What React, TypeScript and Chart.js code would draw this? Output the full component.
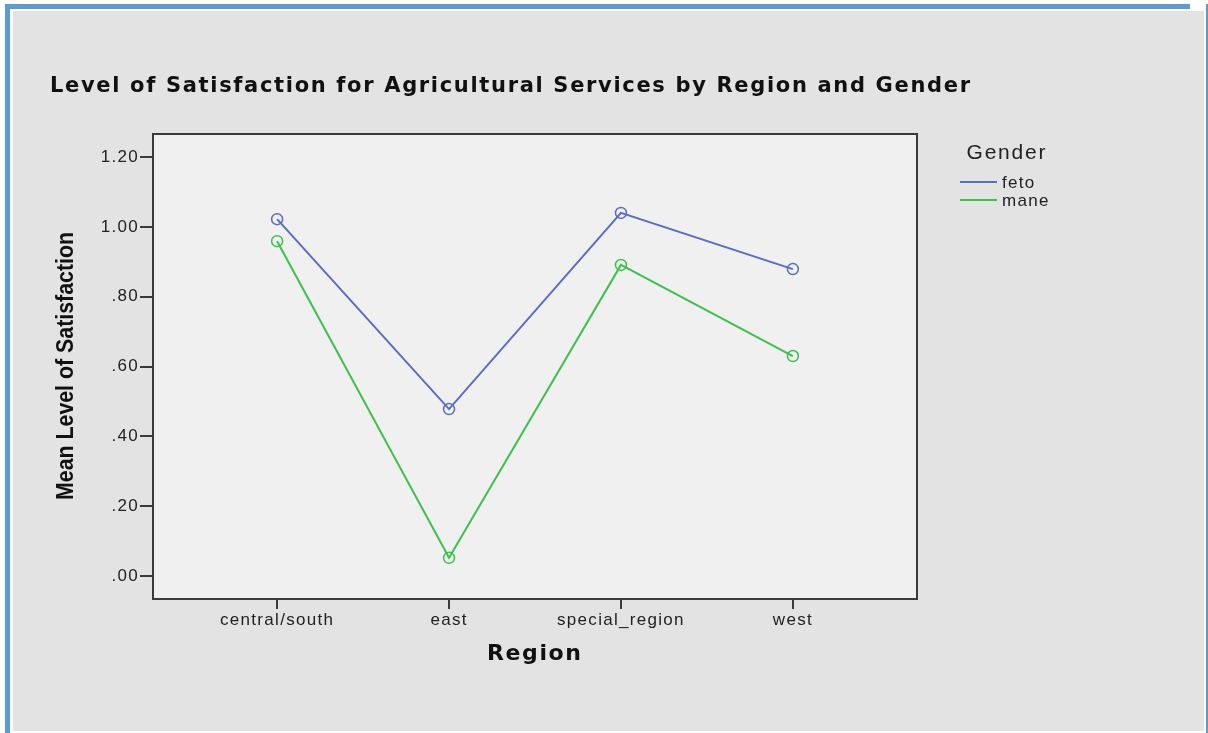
import React, { useEffect, useRef } from "react";
import { Chart, registerables } from "chart.js";

Chart.register(...registerables);

const regions = ["central/south", "east", "special_region", "west"];
const fetoValues = [1.022, 0.478, 1.04, 0.879];
const maneValues = [0.959, 0.052, 0.891, 0.63];
const yTickValues = [0, 0.2, 0.4, 0.6, 0.8, 1.0, 1.2];
const seriesNames = ["feto", "mane"];
const seriesColors = ["#5a6cc4", "#3ec04f"];

const W = 1208;
const H = 733;

function fmtTick(v: number): string {
  const s = v.toFixed(2);
  return s.startsWith("0") ? s.slice(1) : s;
}

function spacedText(ctx: CanvasRenderingContext2D, text: string, x: number, y: number, targetW: number) {
  ctx.save();
  (ctx as any).letterSpacing = "0px";
  const base = ctx.measureText(text).width;
  const n = text.length;
  const extra = n > 1 ? (targetW - base) / (n - 1) : 0;
  let cx = x - targetW / 2;
  ctx.textAlign = "left";
  for (const ch of text) {
    ctx.fillText(ch, cx, y);
    cx += ctx.measureText(ch).width + extra;
  }
  ctx.restore();
}

const decorPlugin = {
  id: "decor",
  beforeDraw(chart: any) {
    const ctx = chart.ctx as CanvasRenderingContext2D;
    const { left, top, right, bottom } = chart.chartArea;
    ctx.save();
    ctx.fillStyle = "#ffffff";
    ctx.fillRect(0, 0, W, H);
    ctx.fillStyle = "#5b9bd5";
    ctx.fillRect(5, 4, 5, H - 4);
    ctx.fillRect(5, 4, 1185, 5);
    ctx.fillRect(1206, 4, 2, H - 4);
    ctx.fillStyle = "#e3e3e3";
    ctx.fillRect(13, 11, 1191, 720);
    ctx.fillStyle = "#f0f0f0";
    ctx.fillRect(left, top, right - left, bottom - top);
    ctx.restore();
    (ctx as any).letterSpacing = "1.3px";
  },
  afterDraw(chart: any) {
    const ctx = chart.ctx as CanvasRenderingContext2D;
    const { left, top, right, bottom } = chart.chartArea;
    (ctx as any).letterSpacing = "0px";
    ctx.save();
    ctx.strokeStyle = "#3a3a3a";
    ctx.lineWidth = 2;
    ctx.strokeRect(left, top, right - left, bottom - top);

    ctx.fillStyle = "#111111";
    ctx.textBaseline = "middle";
    ctx.font = "bold 21px 'DejaVu Sans', sans-serif";
    spacedText(ctx, "Level of Satisfaction for Agricultural Services by Region and Gender", 510, 87, 920);
    ctx.font = "bold 22px 'DejaVu Sans', sans-serif";
    spacedText(ctx, "Region", 534, 654, 94);

    ctx.save();
    ctx.translate(66, 366);
    ctx.rotate(-Math.PI / 2);
    ctx.font = "bold 24px 'Liberation Sans', Arial, sans-serif";
    const t = "Mean Level of Satisfaction";
    const w = ctx.measureText(t).width;
    ctx.scale(268 / w, 1);
    ctx.textAlign = "center";
    ctx.fillText(t, 0, 0);
    ctx.restore();

    ctx.fillStyle = "#222222";
    ctx.font = "21px 'Liberation Sans', Arial, sans-serif";
    spacedText(ctx, "Gender", 1006, 153, 79);
    ctx.font = "17px 'Liberation Sans', Arial, sans-serif";
    const ys = [182, 200];
    seriesNames.forEach((name, i) => {
      ctx.strokeStyle = seriesColors[i];
      ctx.lineWidth = 2;
      ctx.beginPath();
      ctx.moveTo(960, ys[i]);
      ctx.lineTo(997, ys[i]);
      ctx.stroke();
      ctx.fillStyle = "#222222";
      ctx.save();
      ctx.textAlign = "left";
      (ctx as any).letterSpacing = "1.3px";
      ctx.fillText(name, 1002, ys[i] + 1);
      ctx.restore();
    });
    ctx.restore();
  },
};

export default function App() {
  const ref = useRef<HTMLCanvasElement | null>(null);
  useEffect(() => {
    document.body.style.margin = "0";
    const canvas = ref.current;
    if (!canvas) return;
    const mk = (vals: number[], color: string) => ({
      data: vals.map((v, i) => ({ x: i, y: v })),
      borderColor: color,
      backgroundColor: "rgba(0,0,0,0)",
      borderWidth: 2,
      pointRadius: 5.5,
      pointBorderWidth: 1.5,
      pointBorderColor: color,
      pointBackgroundColor: "rgba(0,0,0,0)",
      tension: 0,
      clip: false as any,
    });
    const chart = new Chart(canvas, {
      type: "line",
      data: {
        datasets: [mk(fetoValues, seriesColors[0]), mk(maneValues, seriesColors[1])],
      },
      plugins: [decorPlugin],
      options: {
        animation: false,
        responsive: false,
        devicePixelRatio: 1,
        events: [],
        layout: { padding: { left: 0, top: 134, right: 291, bottom: 0 } },
        plugins: { legend: { display: false }, title: { display: false }, tooltip: { enabled: false } },
        scales: {
          x: {
            type: "linear",
            min: -0.722,
            max: 3.722,
            afterBuildTicks: (scale: any) => {
              scale.ticks = regions.map((_, i) => ({ value: i }));
            },
            afterFit: (scale: any) => {
              scale.height = H - 599;
            },
            ticks: {
              callback: (v: any) => regions[v as number] ?? "",
              color: "#222222",
              font: { family: "'Liberation Sans', Arial, sans-serif", size: 17 },
              padding: 1,
              maxRotation: 0,
              autoSkip: false,
            },
            grid: { drawOnChartArea: false, drawTicks: true, tickLength: 10, color: "#3a3a3a", lineWidth: 2 },
            border: { display: false },
          },
          y: {
            type: "linear",
            min: -0.066,
            max: 1.266,
            afterBuildTicks: (scale: any) => {
              scale.ticks = yTickValues.map((v) => ({ value: v }));
            },
            afterFit: (scale: any) => {
              scale.width = 153;
            },
            ticks: {
              callback: (v: any) => fmtTick(v as number),
              color: "#222222",
              font: { family: "'Liberation Sans', Arial, sans-serif", size: 17 },
              padding: 1,
            },
            grid: { drawOnChartArea: false, drawTicks: true, tickLength: 13, color: "#3a3a3a", lineWidth: 2 },
            border: { display: false },
          },
        },
      },
    } as any);
    return () => chart.destroy();
  }, []);
  return <canvas ref={ref} width={W} height={H} style={{ display: "block", width: W, height: H }} />;
}
